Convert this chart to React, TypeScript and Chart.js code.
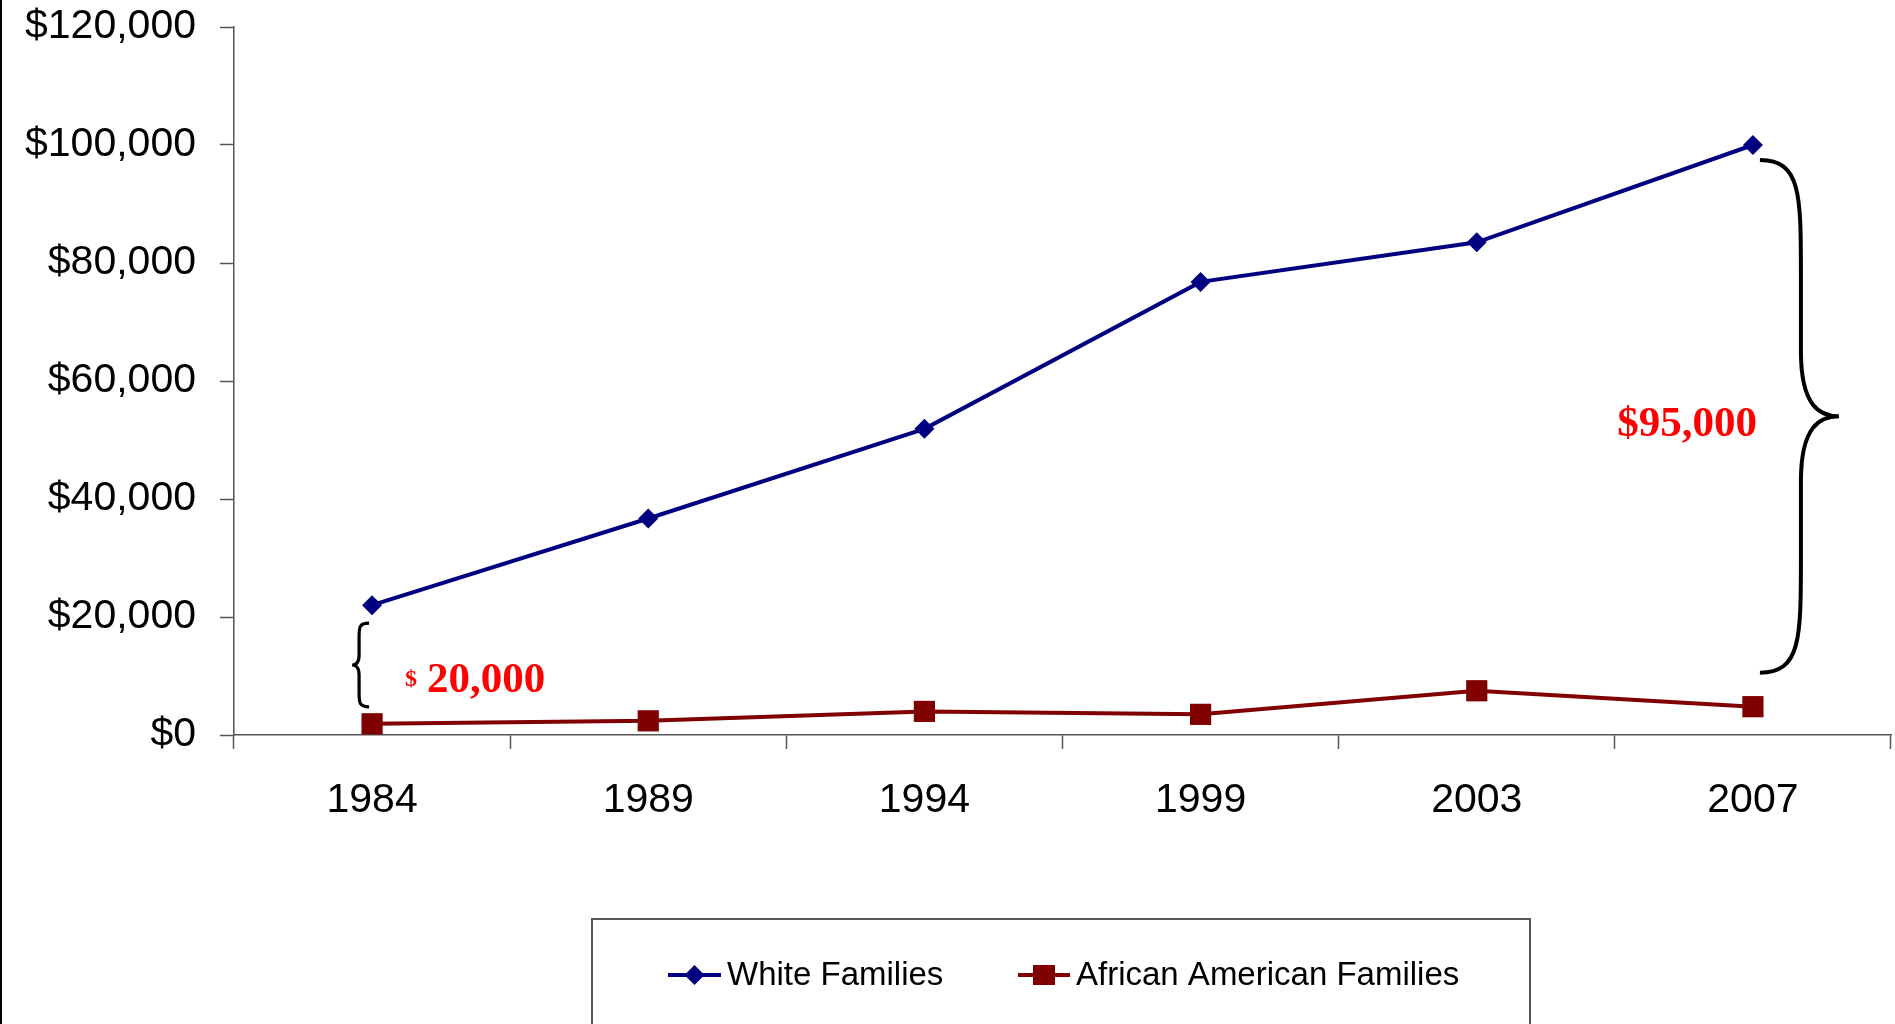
import React, { useEffect, useRef } from "react";
import { Chart, registerables } from "chart.js";

Chart.register(...registerables);

const years = ["1984", "1989", "1994", "1999", "2003", "2007"];
const whiteFamilies = [22000, 36700, 51900, 76800, 83500, 100000];
const africanAmericanFamilies = [1900, 2400, 4000, 3500, 7500, 4800];
const yTickValues = [0, 20000, 40000, 60000, 80000, 100000, 120000];
const seriesLabels = ["White Families", "African American Families"];
const gapLabels = ["$", "20,000", "$95,000"];

const W = 1895;
const H = 1024;

function drawBrace(
  ctx: CanvasRenderingContext2D,
  xEnd: number,
  xStem: number,
  xTip: number,
  yTop: number,
  yBot: number,
  curve: number,
  tipLen: number
) {
  const yMid = (yTop + yBot) / 2;
  const d = xTip - xStem;
  ctx.beginPath();
  ctx.moveTo(xEnd, yTop);
  ctx.bezierCurveTo(xStem, yTop, xStem, yTop + curve * 0.3, xStem, yTop + curve);
  ctx.lineTo(xStem, yMid - tipLen);
  ctx.bezierCurveTo(xStem, yMid - tipLen * 0.15, xTip - d * 0.5, yMid, xTip, yMid);
  ctx.bezierCurveTo(xTip - d * 0.5, yMid, xStem, yMid + tipLen * 0.15, xStem, yMid + tipLen);
  ctx.lineTo(xStem, yBot - curve);
  ctx.bezierCurveTo(xStem, yBot - curve * 0.3, xStem, yBot, xEnd, yBot);
  ctx.stroke();
}

const overlayPlugin = {
  id: "overlay",
  afterDraw(chart: any) {
    const ctx: CanvasRenderingContext2D = chart.ctx;
    const xs = chart.scales.x;
    const ys = chart.scales.y;
    ctx.save();

    // left frame line
    ctx.fillStyle = "#000";
    ctx.fillRect(0, 0, 2, H);

    // small brace at first category
    const x0 = xs.getPixelForValue(0);
    const wy0 = ys.getPixelForValue(whiteFamilies[0]);
    const ry0 = ys.getPixelForValue(africanAmericanFamilies[0]);
    ctx.strokeStyle = "#000";
    ctx.lineWidth = 3.2;
    drawBrace(ctx, x0 - 3, x0 - 13, x0 - 20, wy0 + 18, ry0 - 17, 14, 10);

    ctx.fillStyle = "#FF0000";
    ctx.textAlign = "left";
    ctx.textBaseline = "alphabetic";
    ctx.font = "bold 24px 'Liberation Serif', 'Times New Roman', serif";
    ctx.fillText(gapLabels[0], x0 + 33, ry0 - 38);
    ctx.font = "bold 43px 'Liberation Serif', 'Times New Roman', serif";
    ctx.fillText(gapLabels[1], x0 + 55, ry0 - 32);

    // big brace at last category
    const xl = xs.getPixelForValue(years.length - 1);
    const wyl = ys.getPixelForValue(whiteFamilies[years.length - 1]);
    const ryl = ys.getPixelForValue(africanAmericanFamilies[years.length - 1]);
    ctx.strokeStyle = "#000";
    ctx.lineWidth = 4;
    const yTop = wyl + 15;
    const yBot = ryl - 34;
    drawBrace(ctx, xl + 7, xl + 48, xl + 86, yTop, yBot, 115, 65);
    ctx.fillStyle = "#FF0000";
    ctx.textAlign = "right";
    ctx.font = "bold 43px 'Liberation Serif', 'Times New Roman', serif";
    ctx.fillText(gapLabels[2], xl + 4, (yTop + yBot) / 2 + 20);

    // legend box
    ctx.strokeStyle = "#555";
    ctx.lineWidth = 2;
    ctx.strokeRect(592, 919, 938, 200);

    const ly = 975;
    const ds = chart.data.datasets;
    const items = [
      { x1: 668, x2: 721, tx: 727 },
      { x1: 1018, x2: 1070, tx: 1076 },
    ];
    items.forEach((it, i) => {
      const d = ds[i];
      ctx.strokeStyle = d.borderColor;
      ctx.lineWidth = 4;
      ctx.beginPath();
      ctx.moveTo(it.x1, ly);
      ctx.lineTo(it.x2, ly);
      ctx.stroke();
      const cx = (it.x1 + it.x2) / 2;
      ctx.fillStyle = d.backgroundColor;
      ctx.beginPath();
      if (d.pointStyle === "rectRot") {
        ctx.moveTo(cx, ly - 10);
        ctx.lineTo(cx + 10, ly);
        ctx.lineTo(cx, ly + 10);
        ctx.lineTo(cx - 10, ly);
        ctx.closePath();
      } else {
        ctx.rect(cx - 11, ly - 10, 22, 20);
      }
      ctx.fill();
      ctx.fillStyle = "#000";
      ctx.textAlign = "left";
      ctx.textBaseline = "middle";
      ctx.font = "33px 'Liberation Sans', Arial, sans-serif";
      ctx.fillText(d.label, it.tx, ly + 1);
    });

    ctx.restore();
  },
};

export default function App() {
  const ref = useRef<HTMLCanvasElement | null>(null);

  useEffect(() => {
    if (!ref.current) return;
    const chart = new Chart(ref.current, {
      type: "line",
      data: {
        labels: years,
        datasets: [
          {
            label: seriesLabels[0],
            data: whiteFamilies,
            borderColor: "#000080",
            backgroundColor: "#000080",
            borderWidth: 4,
            pointStyle: "rectRot",
            pointRadius: 10,
            pointBorderWidth: 0,
            tension: 0,
          },
          {
            label: seriesLabels[1],
            data: africanAmericanFamilies,
            borderColor: "#800000",
            backgroundColor: "#800000",
            borderWidth: 4,
            pointStyle: "rect",
            pointRadius: 15,
            pointBorderWidth: 0,
            tension: 0,
          },
        ],
      },
      options: {
        responsive: false,
        animation: false,
        devicePixelRatio: 1,
        events: [],
        layout: { autoPadding: false, padding: { top: 27, right: 4, left: 0, bottom: 0 } },
        plugins: {
          legend: { display: false },
          tooltip: { enabled: false },
        },
        scales: {
          x: {
            type: "category",
            offset: true,
            grid: {
              display: true,
              offset: true,
              drawOnChartArea: false,
              drawTicks: true,
              tickLength: 14,
              tickColor: "#555",
              tickWidth: 1.5,
            },
            border: { display: true, color: "#555", width: 1.5 },
            ticks: {
              color: "#000",
              padding: 27,
              font: { family: "'Liberation Sans', Arial, sans-serif", size: 41 },
              maxRotation: 0,
              autoSkip: false,
            },
            afterFit: (s: any) => {
              s.height = H - 735;
              s.paddingLeft = 0;
              s.paddingRight = 0;
            },
          },
          y: {
            min: 0,
            max: 120000,
            afterBuildTicks: (s: any) => {
              s.ticks = yTickValues.map((v) => ({ value: v }));
            },
            grid: {
              display: true,
              drawOnChartArea: false,
              drawTicks: true,
              tickLength: 14,
              tickColor: "#555",
              tickWidth: 1.5,
            },
            border: { display: true, color: "#555", width: 1.5 },
            ticks: {
              color: "#000",
              padding: 24,
              font: { family: "'Liberation Sans', Arial, sans-serif", size: 41 },
              callback: (v: any) => "$" + Number(v).toLocaleString("en-US"),
            },
            afterFit: (s: any) => {
              s.width = 234;
              s.paddingTop = 0;
              s.paddingBottom = 0;
            },
          },
        },
      },
      plugins: [overlayPlugin],
    });
    return () => chart.destroy();
  }, []);

  return (
    <div style={{ position: "absolute", left: 0, top: 0, width: W, height: H, background: "#fff" }}>
      <canvas ref={ref} width={W} height={H} style={{ display: "block", width: W, height: H }} />
    </div>
  );
}
